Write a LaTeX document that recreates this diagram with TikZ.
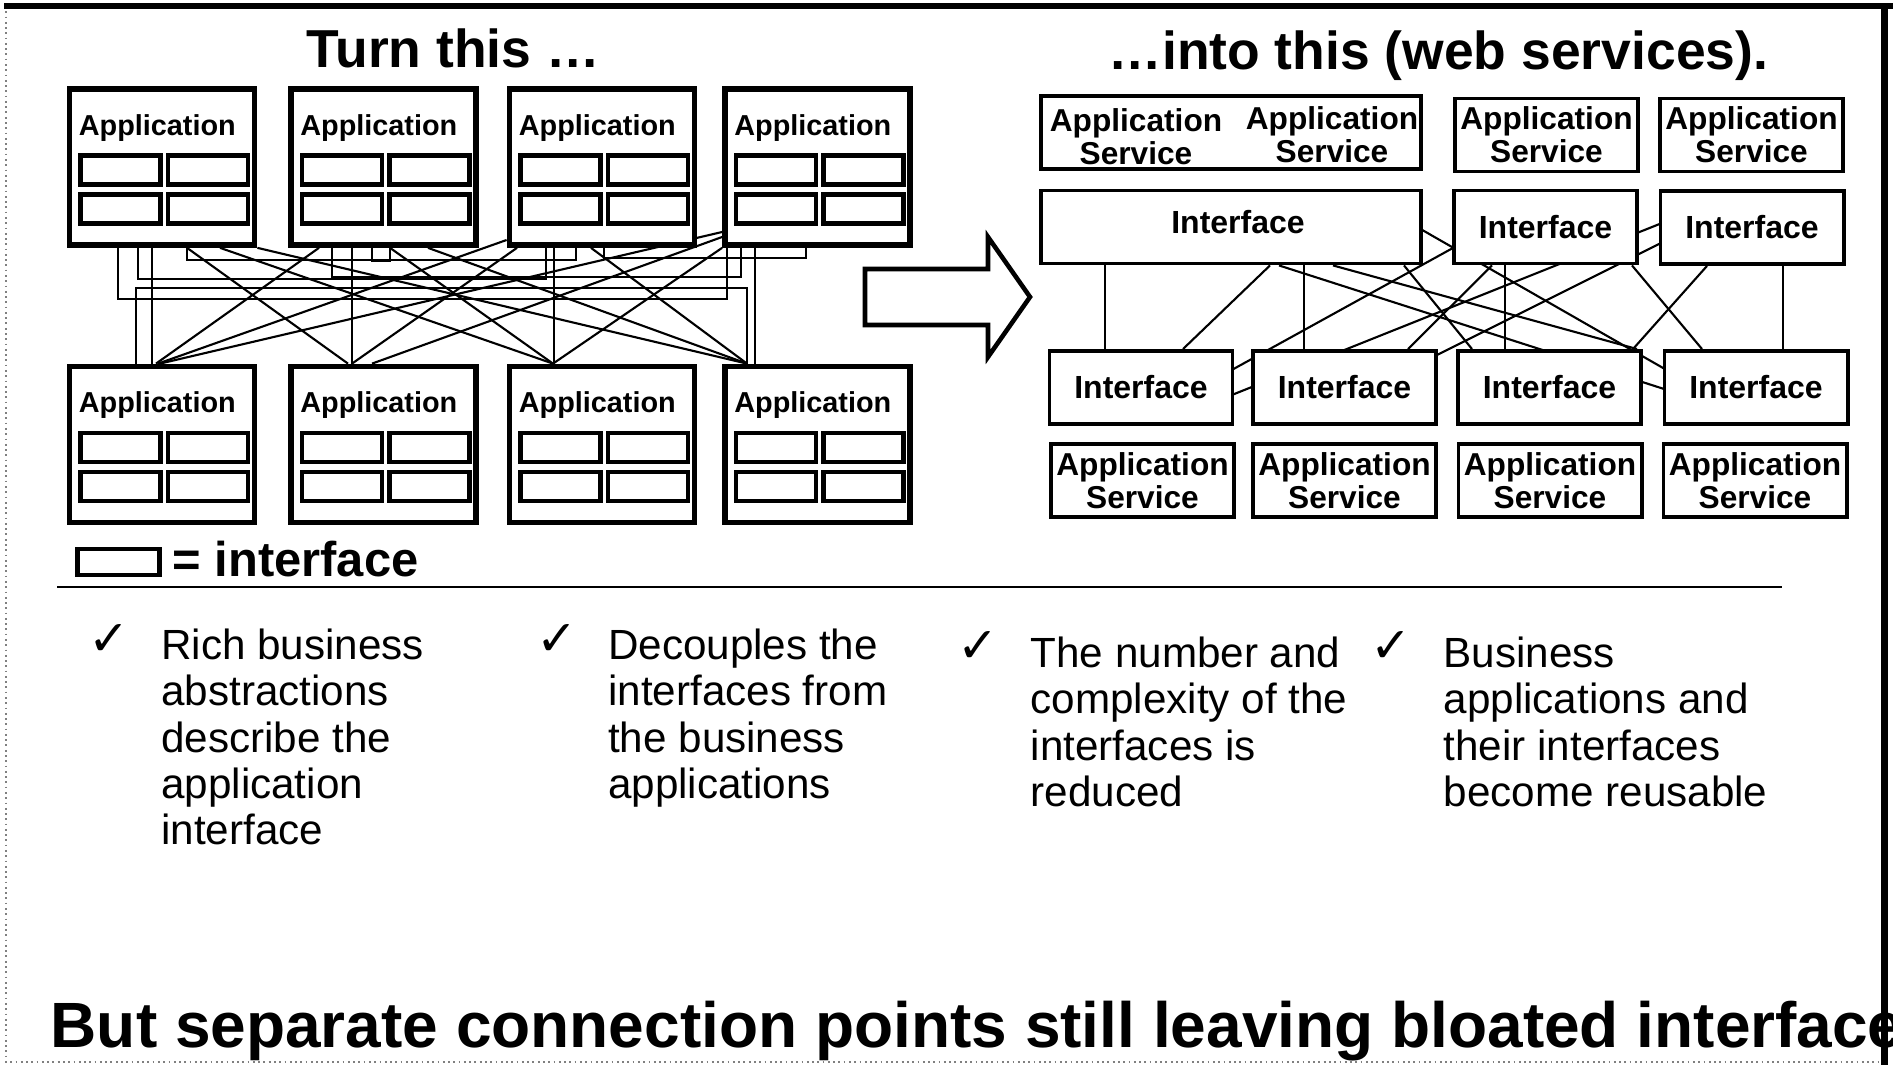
\documentclass[tikz,border=0pt]{standalone}
\usepackage{fontspec}
\setmainfont{Liberation Sans}
\newfontfamily\tickfont{DejaVu Sans}
\usetikzlibrary{backgrounds}

\begin{document}
\begin{tikzpicture}[x=0.01cm, y=-0.01cm,
  appbox/.style={draw, line width=1.6pt, fill=white, minimum width=1.85cm, minimum height=1.56cm, inner sep=0pt},
  portbox/.style={draw, line width=1.3pt, fill=white, minimum width=0.8cm, minimum height=0.29cm, inner sep=0pt},
  applabel/.style={anchor=base west, inner sep=0pt, font=\bfseries\fontsize{8.2}{9}\selectfont},
  svcbox/.style={draw, line width=1.1pt, fill=white, minimum width=1.83cm, minimum height=0.73cm, inner sep=0pt, align=center, font=\bfseries\fontsize{9}{9.3}\selectfont},
  ifacebox/.style={svcbox, font=\bfseries\fontsize{9.1}{10}\selectfont},
  svctext/.style={inner sep=0pt, align=center, font=\bfseries\fontsize{9}{9.3}\selectfont},
  wire/.style={line width=0.6pt},
  bus/.style={line width=0.45pt},
  heading/.style={anchor=base west, inner sep=0pt, font=\bfseries\fontsize{15.2}{18}\selectfont},
  tick/.style={inner sep=0pt, font=\tickfont\fontsize{14}{14}\selectfont},
  point/.style={anchor=north west, inner sep=0pt, align=left, font=\fontsize{12}{13.2}\selectfont}]
\useasboundingbox (0,0) rectangle (1893,1065);

\node[heading] (turn) at (306,68) {Turn this …};
\node[heading] (into) at (1108,70) {…into this (web services).};

\foreach \r/\y in {t/167,b/444.5}
  \foreach \n/\x in {1/162,2/383.5,3/602,4/817.5}{
    \node[appbox] (app\r\n) at (\x,\y) {};
    \node[applabel] (app\r\n-name) at ([shift={(11.5,49)}]app\r\n.north west) {Application};
    \node[portbox] (app\r\n-a) at ([shift={(-41.5,3)}]app\r\n.center) {};
    \node[portbox] (app\r\n-b) at ([shift={(46,3)}]app\r\n.center) {};
    \node[portbox] (app\r\n-c) at ([shift={(-41.5,42)}]app\r\n.center) {};
    \node[portbox] (app\r\n-d) at ([shift={(46,42)}]app\r\n.center) {};
  }

\draw[line width=1.3pt, line join=miter, fill=white] (865,269) -- (988,269) -- (988,237) -- (1030,297) -- (988,357) -- (988,325) -- (865,325) -- cycle;

\node[svcbox, minimum width=3.8cm] (svct1) at (1231,132.5) {};
\node[svctext] (svct1-a) at (1136,136.5) {Application\\Service};
\node[svctext] (svct1-b) at (1332,134.5) {Application\\Service};
\node[svcbox] (svct2) at (1546.5,135) {Application\\Service};
\node[svcbox] (svct3) at (1751.5,135) {Application\\Service};
\node[ifacebox, minimum width=3.8cm] (ift1) at (1231,227) {};
\node[svctext, font=\bfseries\fontsize{9.1}{10}\selectfont] (ift1-name) at (1238,222) {Interface};
\node[ifacebox] (ift2) at (1545.5,227) {Interface};
\node[ifacebox] (ift3) at (1752,227.5) {Interface};
\node[ifacebox] (ifb1) at (1141,387.5) {Interface};
\node[ifacebox] (ifb2) at (1344.5,387.5) {Interface};
\node[ifacebox] (ifb3) at (1549.5,387.5) {Interface};
\node[ifacebox] (ifb4) at (1756,387.5) {Interface};
\node[svcbox] (svcb1) at (1142.5,480.5) {Application\\Service};
\node[svcbox] (svcb2) at (1344.5,480.5) {Application\\Service};
\node[svcbox] (svcb3) at (1550,480.5) {Application\\Service};
\node[svcbox] (svcb4) at (1755,480.5) {Application\\Service};

\begin{scope}[on background layer]
\fill[white] (0,0) rectangle (1893,1065);
\draw[bus] (118,0 |- appt1.south) -- (118,299) -| (727,0 |- appt4.south);
\draw[bus] (138,0 |- appt1.south) -- (138,279) -| (546,0 |- appt3.south);
\draw[bus] (187,0 |- appt1.south) -- (187,260) -| (576,0 |- appt3.south);
\draw[bus] (332,0 |- appt2.south) -- (332,277) -| (741,0 |- appt4.south);
\draw[bus] (372,0 |- appt2.south) -- (372,261) -| (390,0 |- appt2.south);
\draw[bus] (604,0 |- appt3.south) -- (604,258) -| (806,0 |- appt4.south);
\draw[bus] (136,0 |- appb1.north) -- (136,288) -| (747,0 |- appb4.north);
\draw[bus] (152,0 |- appt1.south) -- (152,0 |- appb1.north);
\draw[bus] (352,0 |- appt2.south) -- (352,0 |- appb2.north);
\draw[bus] (554,0 |- appt3.south) -- (554,0 |- appb3.north);
\draw[bus] (755,0 |- appt4.south) -- (755,0 |- appb4.north);
\draw[wire] (187,0 |- appt1.south) -- (348,0 |- appb2.north);
\draw[wire] (220,0 |- appt1.south) -- (553,0 |- appb3.north);
\draw[wire] (appt1.south east) -- (747,0 |- appb4.north);
\draw[wire] (319,0 |- appt2.south) -- (156,0 |- appb1.north);
\draw[wire] (390,0 |- appt2.south) -- (553,0 |- appb3.north);
\draw[wire] (428,0 |- appt2.south) -- (747,0 |- appb4.north);
\draw[wire] (appt3.west |- 0,240) -- (158,0 |- appb1.north);
\draw[wire] (517,0 |- appt3.south) -- (352,0 |- appb2.north);
\draw[wire] (591,0 |- appt3.south) -- (747,0 |- appb4.north);
\draw[wire] (appt4.west |- 0,232) -- (160,0 |- appb1.north);
\draw[wire] (appt4.west |- 0,237) -- (372,0 |- appb2.north);
\draw[wire] (appt4.south west) -- (553,0 |- appb3.north);
\draw[bus] (1105,0 |- ift1.south) -- (1105,0 |- ifb1.north);
\draw[wire] (1270,0 |- ift1.south) -- (1183,0 |- ifb1.north);
\draw[bus] (1304,0 |- ift1.south) -- (1304,0 |- ifb2.north);
\draw[wire] (1279,0 |- ift1.south) -- (1695,0 |- ifb4.base);
\draw[wire] (1333,0 |- ift1.south) -- (1637,0 |- ifb3.north);
\draw[wire] (1404,0 |- ift1.south) -- (1472,0 |- ifb3.north);
\draw[wire] (1417,0 |- ift1.center) -- (1717,0 |- ifb4.base);
\draw[wire] (1491,0 |- ift2.center) -- (1200,0 |- ifb1.center);
\draw[wire] (1492,0 |- ift2.south) -- (1408,0 |- ifb2.north);
\draw[bus] (1505,0 |- ift2.south) -- (1505,0 |- ifb3.north);
\draw[wire] (1632,0 |- ift2.south) -- (1702,0 |- ifb4.north);
\draw[wire, shorten <=1.5pt] (1747,0 |- ift3.north) -- (1222,0 |- ifb1.base);
\draw[wire] (1692,0 |- ift3.center) -- (1372,0 |- ifb2.center);
\draw[wire] (1707,0 |- ift3.south) -- (1633,0 |- ifb3.north);
\draw[bus] (1783,0 |- ift3.south) -- (1783,0 |- ifb4.north);
\end{scope}

\node[portbox, minimum width=0.82cm, minimum height=0.26cm] (legend) at (118.5,562) {};
\node[anchor=base west, inner sep=0pt, font=\bfseries\fontsize{13.9}{16}\selectfont] (legendtext) at (172,577) {= interface};
\draw[line width=0.75pt] (57,587) -- (1782,587);

\node[tick] (chk1) at (109,640) {✓};
\node[point] (pt1) at (160.6,628) {Rich business\\abstractions\\describe the\\application\\interface};
\node[tick] (chk2) at (557,640) {✓};
\node[point] (pt2) at (607.5,628) {Decouples the\\interfaces from\\the business\\applications};
\node[tick] (chk3) at (978,647) {✓};
\node[point] (pt3) at (1030,636) {The number and\\complexity of the\\interfaces is\\reduced};
\node[tick] (chk4) at (1391,647) {✓};
\node[point] (pt4) at (1443,636) {Business\\applications and\\their interfaces\\become reusable};

\node[anchor=base west, inner sep=0pt, font=\bfseries\fontsize{18.2}{22}\selectfont] (verdict) at (50,1048) {But separate connection points still leaving bloated interface};

\draw[gray, densely dotted, line width=0.5pt] (6,6) -- (6,1062) -- (1885,1062);
\draw[line width=1.5pt] (4,6) -- (1893,6);
\draw[line width=2pt] (1884.5,6) -- (1884.5,1065);
\end{tikzpicture}
\end{document}
